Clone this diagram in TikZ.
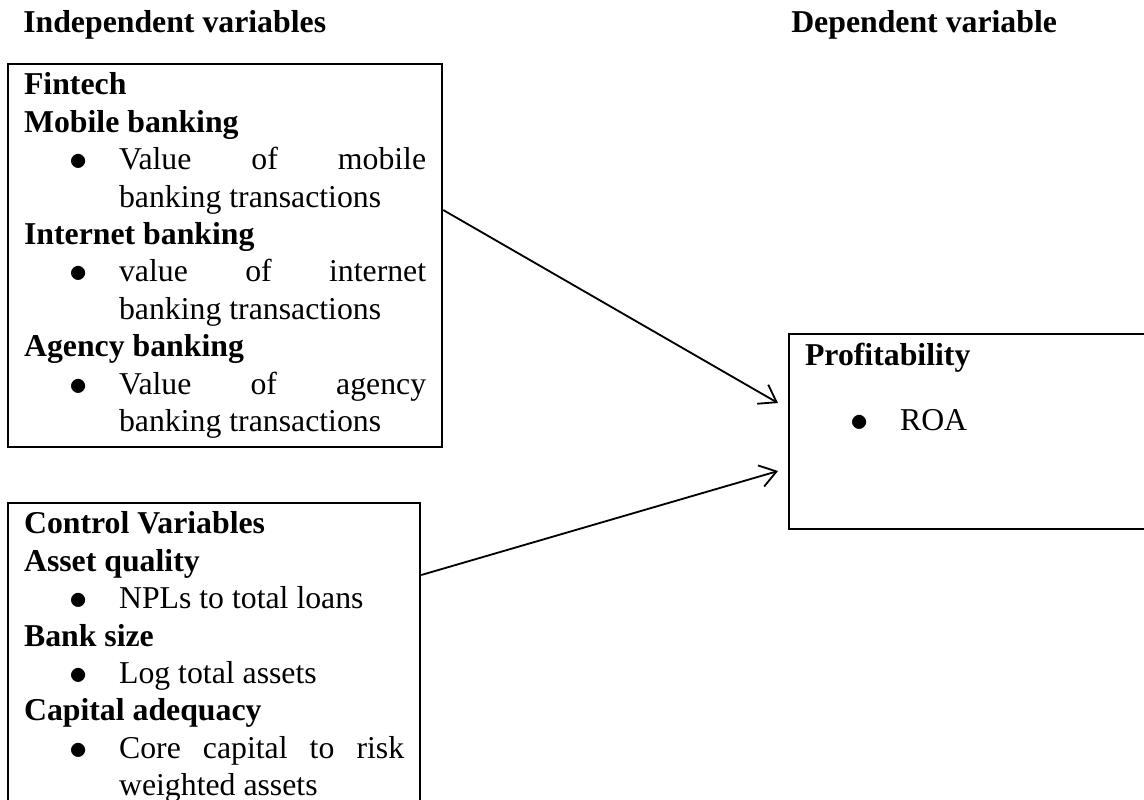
\documentclass[tikz,border=0pt]{standalone}
\usepackage{fontspec}
\setmainfont{Liberation Serif}
\usetikzlibrary{arrows.meta}
\setlength{\parindent}{0pt}
% bullet line with hanging text
\newcommand{\bulitem}[1]{{\leftskip=2.375cm\noindent\llap{\raisebox{-0.03em}{\scalebox{1.25}{$\bullet$}}\hspace{0.775cm}}#1\par}}

\begin{document}
\begin{tikzpicture}[
    x=0.025cm, y=-0.025cm,
    >={Straight Barb[length=4mm, width=5.5mm]},
    varbox/.style={draw, line width=1.5pt, anchor=north west, align=justify,
                   inner xsep=0.4cm, inner ysep=0.22cm,
                   font=\fontsize{22.6pt}{26.6pt}\selectfont},
    header/.style={anchor=base west, inner sep=0pt, font=\fontsize{22.6pt}{26.6pt}\selectfont\bfseries},
    arr/.style={->, line width=1.3pt}
]
\useasboundingbox (0,0) rectangle (1144,800);

\node[header] (indep) at (23,33) {Independent variables};
\node[header] (dep) at (791,33) {Dependent variable};

\node[varbox, text width=10.05cm] (fintech) at (7,63) {
  {\bfseries Fintech}\par
  {\bfseries Mobile banking}\par
  \bulitem{Value of mobile\linebreak banking transactions}
  {\bfseries Internet banking}\par
  \bulitem{value of internet\linebreak banking transactions}
  {\bfseries Agency banking}\par
  \bulitem{Value of agency\linebreak banking transactions}
};

\node[varbox, text width=9.5cm] (ctrl) at (7,502) {
  {\bfseries Control Variables}\par
  {\bfseries Asset quality}\par
  \bulitem{NPLs to total loans}
  {\bfseries Bank size}\par
  \bulitem{Log total assets}
  {\bfseries Capital adequacy}\par
  \bulitem{Core capital to risk\linebreak weighted assets\rule[-0.6cm]{0pt}{0.6cm}}
};

\node[varbox, text width=9.2cm] (profit) at (788,333) {
  {\bfseries Profitability}\par
  \vspace{0.69cm}
  \bulitem{ROA\rule[-2.25cm]{0pt}{2.25cm}}
};

\draw[arr] ([yshift=-3.675cm]fintech.north east) -- ([xshift=-0.25cm, yshift=-1.75cm]profit.north west);
\draw[arr] ([yshift=-1.825cm]ctrl.north east) -- ([xshift=-0.25cm, yshift=-3.45cm]profit.north west);
\end{tikzpicture}
\end{document}
